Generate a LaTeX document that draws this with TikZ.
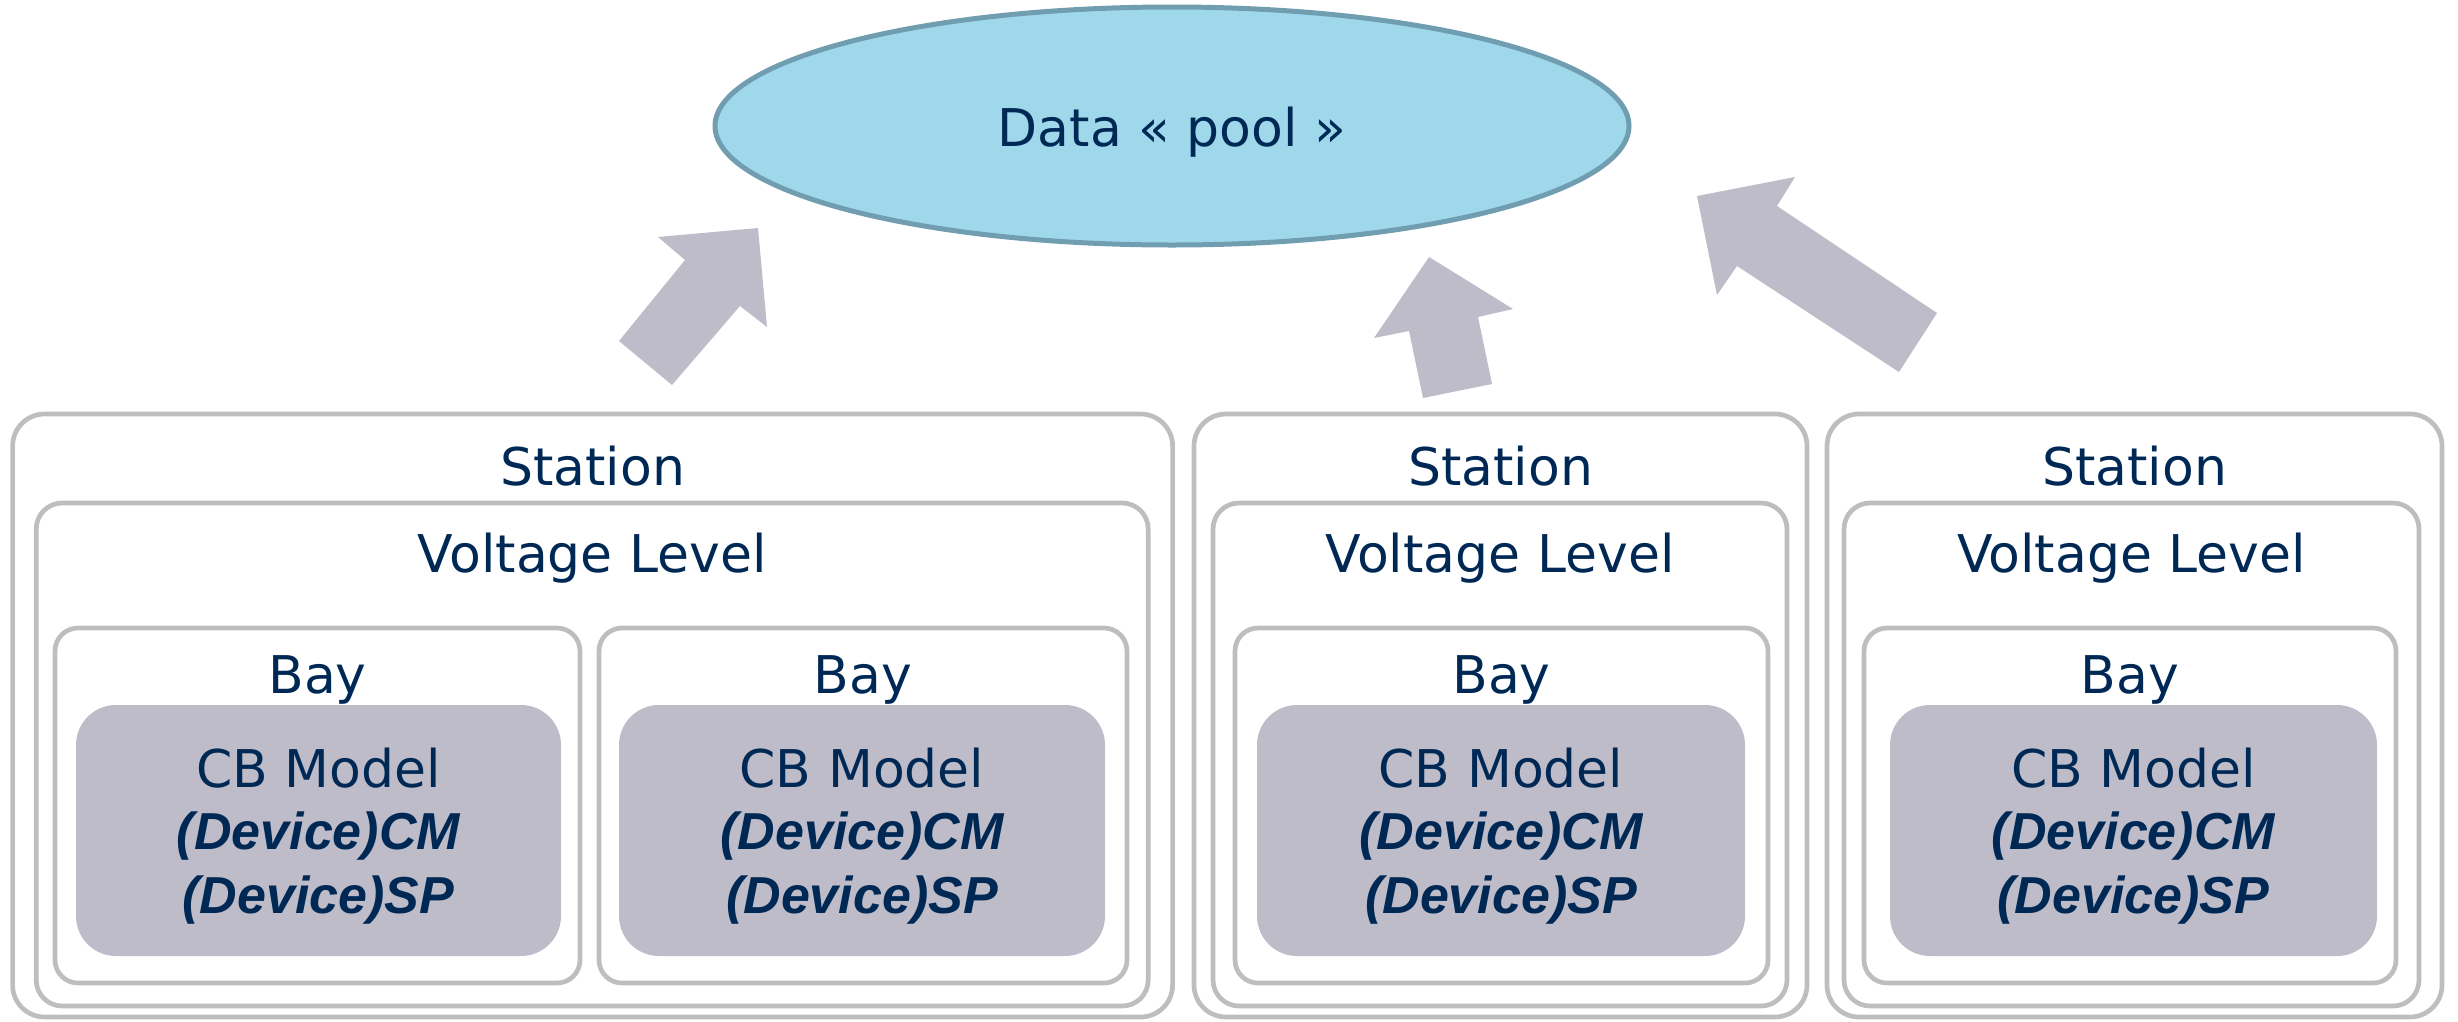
\documentclass[tikz,border=0pt]{standalone}
\usepackage{fontspec}
\setmainfont{DejaVu Sans}
\newfontfamily\devfont{Liberation Sans}
\usetikzlibrary{shapes.geometric}

\definecolor{txtnavy}{RGB}{0,40,85}
\definecolor{boxgray}{RGB}{190,190,190}
\definecolor{cbfill}{RGB}{189,188,200}
\definecolor{poolfill}{RGB}{159,216,235}
\definecolor{poolline}{RGB}{112,158,176}

\tikzset{
  lvlbox/.style={draw=boxgray, line width=4.7pt, rectangle, inner sep=0pt, outer sep=0pt},
  stationbox/.style={lvlbox, rounded corners=32pt},
  vlbox/.style={lvlbox, rounded corners=26pt},
  baybox/.style={lvlbox, rounded corners=23pt},
  cbbox/.style={fill=cbfill, rectangle, rounded corners=40pt, inner sep=0pt, outer sep=0pt},
  lbl/.style={text=txtnavy, inner sep=0pt, anchor=base, font=\fontsize{52}{62}\selectfont},
  devlbl/.style={text=txtnavy, inner sep=0pt, anchor=base, font=\devfont\bfseries\itshape\fontsize{52}{62}\selectfont},
  blockarrow/.style={fill=cbfill, draw=none}
}

\begin{document}
\begin{tikzpicture}[x=1pt, y=-1pt]
\useasboundingbox (0,0) rectangle (2458,1021);

% data pool
\node[ellipse, draw=poolline, line width=5pt, fill=poolfill,
      minimum width=914pt, minimum height=238pt, inner sep=0pt] (pool) at (1172,126) {};
\node[lbl] (poolt) at (1172,146) {Data « pool »};

% block arrows pointing to the pool
\fill[blockarrow] (758,228) -- (767,327) -- (740,306) -- (672,385)
  -- (619,341) -- (685,260) -- (658,237) -- cycle;
\fill[blockarrow] (1429,257) -- (1513,309) -- (1478,317) -- (1492,384)
  -- (1423,398) -- (1409,331) -- (1374,338) -- cycle;
\fill[blockarrow] (1697,196) -- (1795,177) -- (1777,206) -- (1937,313)
  -- (1899,372) -- (1737,266) -- (1717,295) -- cycle;

% station 1
\node[stationbox, minimum width=1160pt, minimum height=603pt] (st1) at (592.6,715.5) {};
\node[vlbox, minimum width=1112pt, minimum height=503pt] (vl1) at (592.2,754.5) {};
\node[baybox, minimum width=525pt, minimum height=355pt] (bay1a) at (317.5,805.5) {};
\node[cbbox, minimum width=485pt, minimum height=251pt] (cb1a) at (318.5,830.5) {};
\node[baybox, minimum width=528pt, minimum height=355pt] (bay1b) at (863,805.5) {};
\node[cbbox, minimum width=486pt, minimum height=251pt] (cb1b) at (862,830.5) {};
\node[lbl] (st1t) at (592.6,485) {Station};
\node[lbl] (vl1t) at (592.2,572) {Voltage Level};
\node[lbl] (bay1at) at (317.5,693) {Bay};
\node[lbl] (bay1bt) at (863,693) {Bay};
\node[lbl] (cb1at) at (318.5,787) {CB Model};
\node[devlbl] (cb1acm) at (318.5,849.5) {(Device)CM};
\node[devlbl] (cb1asp) at (318.5,913) {(Device)SP};
\node[lbl] (cb1bt) at (862,787) {CB Model};
\node[devlbl] (cb1bcm) at (862,849.5) {(Device)CM};
\node[devlbl] (cb1bsp) at (862,913) {(Device)SP};

% station 2
\node[stationbox, minimum width=613pt, minimum height=603pt] (st2) at (1500.5,715.5) {};
\node[vlbox, minimum width=574pt, minimum height=503pt] (vl2) at (1500,754.5) {};
\node[baybox, minimum width=533pt, minimum height=355pt] (bay2) at (1501.5,805.5) {};
\node[cbbox, minimum width=488pt, minimum height=251pt] (cb2) at (1501,830.5) {};
\node[lbl] (st2t) at (1500.5,485) {Station};
\node[lbl] (vl2t) at (1500,572) {Voltage Level};
\node[lbl] (bay2t) at (1501.5,693) {Bay};
\node[lbl] (cb2t) at (1501,787) {CB Model};
\node[devlbl] (cb2cm) at (1501,849.5) {(Device)CM};
\node[devlbl] (cb2sp) at (1501,913) {(Device)SP};

% station 3
\node[stationbox, minimum width=615pt, minimum height=603pt] (st3) at (2134.5,715.5) {};
\node[vlbox, minimum width=575pt, minimum height=503pt] (vl3) at (2131.5,754.5) {};
\node[baybox, minimum width=532pt, minimum height=355pt] (bay3) at (2130,805.5) {};
\node[cbbox, minimum width=487pt, minimum height=251pt] (cb3) at (2133.5,830.5) {};
\node[lbl] (st3t) at (2134.5,485) {Station};
\node[lbl] (vl3t) at (2131.5,572) {Voltage Level};
\node[lbl] (bay3t) at (2130,693) {Bay};
\node[lbl] (cb3t) at (2133.5,787) {CB Model};
\node[devlbl] (cb3cm) at (2133.5,849.5) {(Device)CM};
\node[devlbl] (cb3sp) at (2133.5,913) {(Device)SP};
\end{tikzpicture}
\end{document}
